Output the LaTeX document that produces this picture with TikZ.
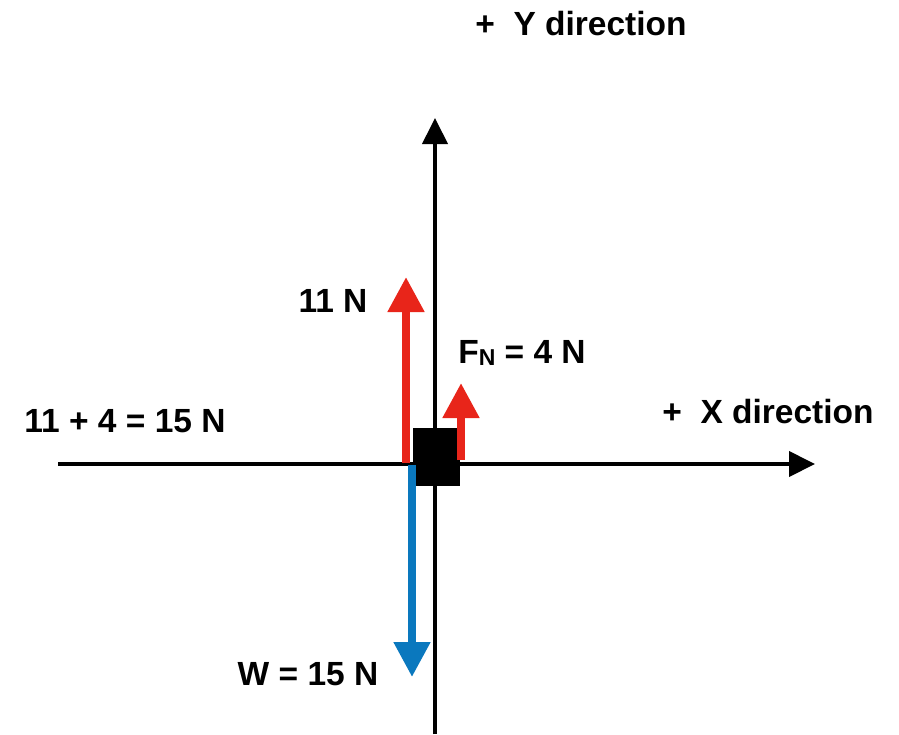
\documentclass[tikz,border=0pt]{standalone}
\usepackage{fontspec}
\setmainfont{Liberation Sans}
\usetikzlibrary{arrows.meta}
\definecolor{fred}{HTML}{E8251A}
\definecolor{fblue}{HTML}{0A78BE}
\tikzset{
  axis/.style={line width=4pt, -{Triangle[width=25pt,length=26pt]}},
  force/.style={line width=8pt, -{Triangle[width=35pt,length=35pt]}},
  lbl/.style={font=\fontsize{33.5}{33.5}\selectfont\bfseries, inner sep=0pt, anchor=base}
}
\begin{document}
\begin{tikzpicture}[x=1pt,y=-1pt]
\useasboundingbox (0,0) rectangle (899,734);
% axes
\coordinate (ybot) at (435,734);
\coordinate (ytop) at (435,118);
\coordinate (xl) at (58,464);
\coordinate (xr) at (815,464);
\draw[axis] (ybot) -- (ytop);
\draw[axis] (xl) -- (xr);
% body
\node[fill=black, minimum width=47pt, minimum height=58pt, inner sep=0pt] (box) at (436.5,457) {};
% forces
\coordinate (r1s) at (406,463);
\coordinate (r1e) at (406,277);
\coordinate (r2s) at (461,460);
\coordinate (r2e) at (461,383);
\coordinate (bs) at (412,465);
\coordinate (be) at (412,677);
\draw[force, fred] (r1s) -- (r1e);
\draw[force, fred] (r2s) -- (r2e);
\draw[force, fblue] (bs) -- (be);
% labels
\node[lbl] (ydir) at (581,35) {+\ \ Y direction};
\node[lbl] (xdir) at (768,423) {+\ \ X direction};
\node[lbl] (sum) at (125,432) {11 + 4 = 15 N};
\node[lbl] (eleven) at (333,312) {11 N};
\node[lbl] (fn) at (522,363) {F{\fontsize{23}{23}\selectfont\raisebox{-2pt}{N}} = 4 N};
\node[lbl] (w) at (308,685) {W = 15 N};
\end{tikzpicture}
\end{document}
